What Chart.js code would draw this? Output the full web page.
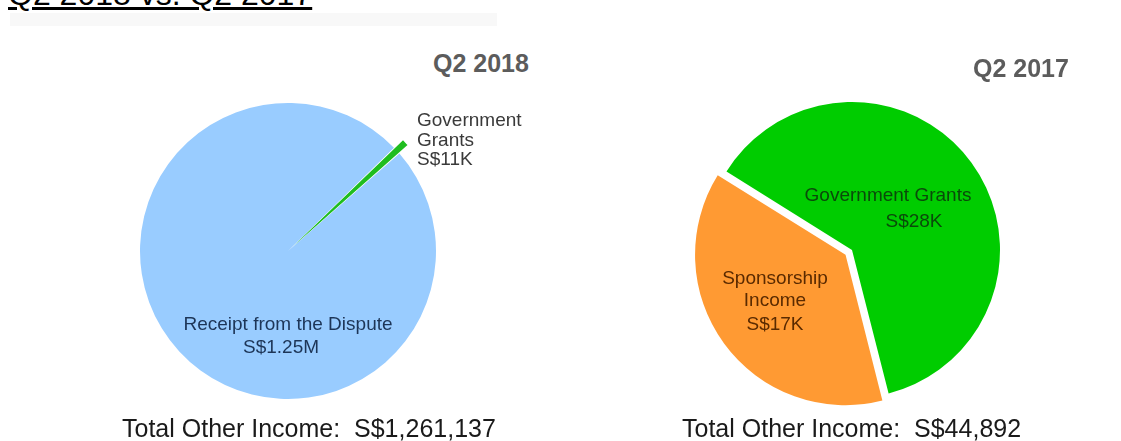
<!DOCTYPE html>
<html>
<head>
<meta charset="utf-8">
<script src="https://cdn.jsdelivr.net/npm/chart.js@4.4.1/dist/chart.umd.min.js"></script>
<style>
  html, body {
    margin: 0;
    padding: 0;
    background: #ffffff;
    overflow: hidden;
  }
  #page {
    position: relative;
    width: 1121px;
    height: 441px;
    font-family: Arial, "Liberation Sans", sans-serif;
  }
  .txt {
    position: absolute;
    line-height: 0;
    white-space: nowrap;
  }
  .pie-box {
    position: absolute;
    width: 340px;
    height: 340px;
  }
  #band {
    position: absolute;
    left: 10px;
    top: 13px;
    width: 487px;
    height: 13px;
    background: #f8f8f8;
  }
</style>
</head>
<body>
<div id="page">
  <div id="band"></div>
  <div class="pie-box" style="left:118px; top:81px;"><canvas id="pie-2018" width="340" height="340"></canvas></div>
  <div class="pie-box" style="left:682px; top:80px;"><canvas id="pie-2017" width="340" height="340"></canvas></div>
</div>

<script>
// Other income breakdown, in S$
const categories2018 = ['Government Grants', 'Receipt from the Dispute'];
const values2018 = [11000, 1250137];
const colors2018 = ['#1fbd1f', '#99ccff'];

const categories2017 = ['Government Grants', 'Sponsorship Income'];
const values2017 = [27892, 17000];
const colors2017 = ['#00cc00', '#ff9a33'];

const periodTitles = ['Q2 2018', 'Q2 2017'];

// S$11K / S$1.25M style amounts
function shortAmount(v) {
    if (v >= 1e6) return 'S$' + (v / 1e6).toFixed(2) + 'M';
    return 'S$' + Math.round(v / 1000) + 'K';
}

function fullAmount(values) {
    const total = values.reduce((a, b) => a + b, 0);
    return 'S$' + total.toLocaleString('en-US');
}

// place a line of text by its baseline; align is 'left' or 'center'
function placeText(text, x, baseline, size, color, opts = {}) {
    const el = document.createElement('div');
    el.className = 'txt';
    el.textContent = text;
    el.style.fontSize = size + 'px';
    el.style.color = color;
    el.style.fontWeight = opts.bold ? 'bold' : 'normal';
    if (opts.underline) el.style.textDecoration = 'underline';
    el.style.top = (baseline - 0.3465 * size) + 'px';
    el.style.left = x + 'px';
    if (opts.align === 'center') el.style.transform = 'translateX(-50%)';
    document.getElementById('page').appendChild(el);
}

// note: Chart.js moves an arc out by offset / 4
function createPie(canvasId, labels, values, colors, rotation, offsets, borderWidth) {
    const ctx = document.getElementById(canvasId);
    return new Chart(ctx, {
        type: 'pie',
        data: {
            labels: labels,
            datasets: [{
                data: values,
                backgroundColor: colors,
                borderColor: '#ffffff',
                borderWidth: borderWidth,
                offset: offsets
            }]
        },
        options: {
            responsive: false,
            animation: false,
            radius: 148,
            rotation: rotation,
            layout: { padding: 0 },
            plugins: {
                legend: { display: false },
                tooltip: { enabled: false }
            }
        }
    });
}

createPie('pie-2018', categories2018, values2018, colors2018, 45.7, [24, 0], 0);
createPie('pie-2017', categories2017, values2017, colors2017, 302, [0, 32], 0);

// heading
placeText('Q2 2018 vs. Q2 2017', 8, 5, 32, '#000000', { underline: true });

// period titles
placeText(periodTitles[0], 433, 72, 25, '#5c5c5c', { bold: true });
placeText(periodTitles[1], 973, 77, 25, '#5c5c5c', { bold: true });

// Q2 2018 slice labels
placeText('Government', 417, 127, 19, '#3a3a3a');
placeText('Grants', 417, 147, 19, '#3a3a3a');
placeText(shortAmount(values2018[0]), 417, 166, 19, '#3a3a3a');
placeText(categories2018[1], 288, 331, 19, '#1d3557', { align: 'center' });
placeText(shortAmount(values2018[1]), 281, 354, 19, '#1d3557', { align: 'center' });

// Q2 2017 slice labels
placeText(categories2017[0], 888, 202, 19, '#0a4a0a', { align: 'center' });
placeText(shortAmount(values2017[0]), 914, 228, 19, '#0a4a0a', { align: 'center' });
placeText('Sponsorship', 775, 285, 19, '#5a2a00', { align: 'center' });
placeText('Income', 775, 307, 19, '#5a2a00', { align: 'center' });
placeText(shortAmount(values2017[1]), 775, 331, 19, '#5a2a00', { align: 'center' });

// totals
placeText('Total Other Income:\u00a0\u00a0' + fullAmount(values2018), 122, 437, 25, '#1a1a1a');
placeText('Total Other Income:\u00a0\u00a0' + fullAmount(values2017), 682, 437, 25, '#1a1a1a');
</script>
</body>
</html>
